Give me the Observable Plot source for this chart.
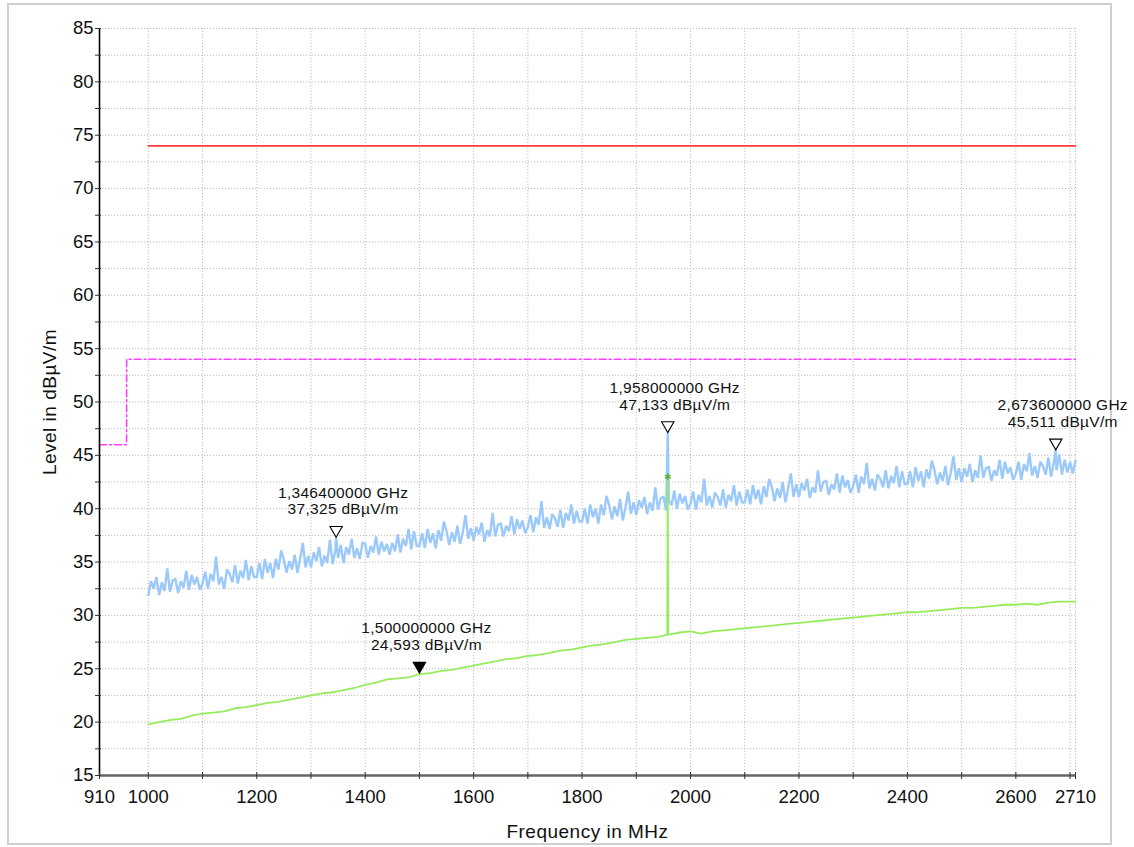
<!DOCTYPE html>
<html><head><meta charset="utf-8">
<script src="https://cdn.jsdelivr.net/npm/d3@7"></script>
<script src="https://cdn.jsdelivr.net/npm/@observablehq/plot@0.6"></script>
<style>
body{margin:0;background:#fff;}
#wrap{position:relative;width:1134px;height:847px;overflow:hidden;background:#fff;}
#frame{position:absolute;left:7px;top:3px;width:1105px;height:842px;border:2px solid #cfcfcf;box-sizing:border-box;}
#chart{position:absolute;left:0;top:0;}
</style></head><body>
<div id="wrap"><div id="frame"></div><div id="chart"></div></div>
<script>
// ---- data ----
const peakStartMHz = 1000, peakStepMHz = 5;
const peakLevel = [
31.9,33.2,32.5,33.6,31.9,33.1,32.3,34.4,32.2,33.3,
33.4,32.1,33.2,32.6,34.2,32.4,33.8,32.9,33.6,32.4,
33.0,34.1,32.5,33.9,33.2,35.5,32.9,33.6,32.5,34.3,
33.9,33.1,34.7,33.0,34.2,33.5,35.2,33.3,34.6,33.6,
33.6,34.9,33.4,35.3,34.0,34.9,33.5,35.3,34.3,36.1,
35.2,34.0,35.1,34.3,35.7,34.0,35.3,36.8,34.5,35.6,
34.5,35.9,35.1,36.4,34.6,35.6,34.9,37.1,34.8,36.1,
35.4,36.6,34.9,36.4,35.7,37.2,35.4,36.3,35.3,36.8,
36.7,35.4,36.5,35.9,37.4,35.7,36.9,36.0,36.7,35.7,
36.8,36.0,37.6,35.9,37.2,36.5,38.1,36.2,37.9,36.5,
36.5,37.7,36.3,38.1,36.8,37.7,36.3,38.0,37.0,38.8,
37.9,36.6,37.8,36.9,38.4,36.7,37.8,39.4,37.2,38.2,
37.0,38.3,37.6,38.7,36.9,38.0,37.4,39.6,37.4,38.5,
38.6,37.4,38.4,37.9,39.3,37.6,39.0,38.1,38.9,37.7,
38.3,39.4,37.8,39.2,38.5,40.7,38.2,39.2,38.1,39.5,
39.1,38.3,39.9,38.2,39.6,38.9,40.4,38.6,39.8,38.8,
38.8,40.0,38.6,40.4,39.2,40.0,38.6,40.4,39.4,41.2,
40.3,39.0,40.2,39.3,40.9,38.9,40.1,41.6,39.5,40.6,
39.4,40.8,40.1,41.1,39.5,40.6,39.8,42.0,39.9,41.0,
41.1,39.8,40.8,40.3,41.7,40.0,41.4,40.5,41.2,39.9,
40.5,41.6,39.9,41.3,40.6,42.8,40.3,41.2,40.1,41.5,
41.1,40.3,41.8,40.1,41.3,40.7,42.2,40.3,41.6,40.6,
40.6,41.8,40.4,42.2,40.9,41.8,40.4,42.1,41.1,42.8,
42.0,40.7,41.9,41.0,42.5,40.6,41.9,43.3,41.1,42.3,
41.1,42.4,41.7,42.8,41.0,42.0,41.5,43.6,41.6,42.5,
42.6,41.3,42.3,41.8,43.3,41.5,43.1,42.0,42.7,41.5,
42.1,43.2,41.5,43.0,42.3,44.3,41.9,42.8,41.7,43.2,
42.8,42.0,43.6,41.9,43.1,42.4,44.0,42.0,43.5,42.3,
42.3,43.5,42.0,43.9,42.6,43.5,42.0,43.7,42.8,44.5,
43.6,42.3,43.4,42.6,44.0,42.2,43.4,44.9,42.7,43.8,
42.5,43.8,43.0,44.2,42.5,43.6,42.9,45.0,42.9,43.8,
43.9,42.6,43.6,43.1,44.6,42.8,44.4,43.3,43.9,42.7,
43.3,44.4,42.7,44.2,43.5,45.2,43.1,44.0,42.9,44.4,
44.0,43.2,44.8,43.0,44.3,43.6,45.1,43.2,44.6,43.4,
44.4,43.3,44.5
];
// narrow peaks in the peak trace (MHz, dBµV/m)
const peakSpikeFreq = [1346.4, 1958.0, 2673.6];
const peakSpikeLevel = [37.325, 47.133, 45.511];

const avgFreq = [1000,1020,1040,1060,1080,1100,1120,1140,1160,1180,1200,1220,1240,1260,1280,1300,1320,1340,1360,1380,1400,1420,1440,1460,1480,1500,1520,1540,1560,1580,1600,1620,1640,1660,1680,1700,1720,1740,1760,1780,1800,1820,1840,1860,1880,1900,1920,1940,1950,1957,1958,1959,1970,1980,2000,2020,2040,2060,2080,2100,2120,2140,2160,2180,2200,2220,2240,2260,2280,2300,2320,2340,2360,2380,2400,2420,2440,2460,2480,2500,2520,2540,2560,2580,2600,2620,2640,2660,2680,2700,2710];
const avgLevel = [19.8,20.0,20.2,20.3,20.6,20.8,20.9,21.0,21.3,21.4,21.6,21.8,21.9,22.1,22.3,22.5,22.7,22.8,23.0,23.2,23.5,23.7,24.0,24.1,24.2,24.5,24.6,24.8,24.9,25.1,25.3,25.5,25.7,25.9,26.0,26.2,26.3,26.5,26.7,26.8,27.0,27.2,27.3,27.5,27.7,27.8,27.9,28.0,28.1,28.2,43.0,28.2,28.3,28.4,28.5,28.3,28.5,28.6,28.7,28.8,28.9,29.0,29.1,29.2,29.3,29.4,29.5,29.6,29.7,29.8,29.9,30.0,30.1,30.2,30.3,30.3,30.4,30.5,30.6,30.7,30.7,30.8,30.9,31.0,31.0,31.1,31.0,31.2,31.3,31.3,31.3];

const limitPeakFreq = [1000, 2710];
const limitPeakLevel = [74, 74];
const limitAvgFreq = [910, 960, 960, 2710];
const limitAvgLevel = [46, 46, 54, 54];

const markerFreq = [1346.4, 1958.0, 2673.6, 1500.0];
const markerLevel = [37.325, 47.133, 45.511, 24.593];
const markerFilled = [false, false, false, true];
const markerText = ["1,346400000 GHz\n37,325 dBµV/m", "1,958000000 GHz\n47,133 dBµV/m", "2,673600000 GHz\n45,511 dBµV/m", "1,500000000 GHz\n24,593 dBµV/m"];

const avgStarFreq = [1958.0];
const avgStarLevel = [43.0];

const xTickValues = [910,1000,1100,1200,1300,1400,1500,1600,1700,1800,1900,2000,2100,2200,2300,2400,2500,2600,2700,2710];
const xLabelValues = [910,1000,1200,1400,1600,1800,2000,2200,2400,2600,2710];
const xGridValues = [1000,1100,1200,1300,1400,1500,1600,1700,1800,1900,2000,2100,2200,2300,2400,2500,2600,2700,2710];
const yTickValues = [15,17.5,20,22.5,25,27.5,30,32.5,35,37.5,40,42.5,45,47.5,50,52.5,55,57.5,60,62.5,65,67.5,70,72.5,75,77.5,80,82.5,85];
const yLabelValues = [15,20,25,30,35,40,45,50,55,60,65,70,75,80,85];

// ---- build tables ----
const peak = peakLevel.map((v, i) => ({f: peakStartMHz + i * peakStepMHz, v}));
peakSpikeFreq.forEach((f, i) => peak.push({f, v: peakSpikeLevel[i]}));
peak.sort((a, b) => a.f - b.f);
const avg = avgFreq.map((f, i) => ({f, v: avgLevel[i]}));
const limPk = limitPeakFreq.map((f, i) => ({f, v: limitPeakLevel[i]}));
const limAv = limitAvgFreq.map((f, i) => ({f, v: limitAvgLevel[i]}));
const markers = markerFreq.map((f, i) => ({f, v: markerLevel[i], filled: markerFilled[i], t: markerText[i]}));
const stars = avgStarFreq.map((f, i) => ({f, v: avgStarLevel[i]}));

const font = "'Liberation Sans', Arial, sans-serif";
const chart = Plot.plot({
  width: 1134, height: 847,
  marginLeft: 99, marginRight: 59, marginTop: 28, marginBottom: 72,
  style: {fontFamily: font, fontSize: "18px", color: "#111", background: "transparent"},
  x: {domain: [910, 2710], label: null},
  y: {domain: [15, 85], label: null},
  marks: [
    Plot.ruleX(xGridValues, {stroke: "#bdbdbd", strokeDasharray: "1.2,1.8", strokeWidth: 1}),
    Plot.ruleY(yTickValues.filter(d => d > 15), {stroke: "#bdbdbd", strokeDasharray: "1.2,1.8", strokeWidth: 1}),
    Plot.line(limPk, {x: "f", y: "v", stroke: "#ff3b3b", strokeWidth: 1.6}),
    Plot.line(limAv, {x: "f", y: "v", stroke: "#ff40ff", strokeWidth: 1.6, strokeDasharray: "7,3,2,3"}),
    Plot.line(peak, {x: "f", y: "v", stroke: "#9cc9fb", strokeWidth: 2.4, strokeLinejoin: "miter", strokeMiterlimit: 2}),
    Plot.line(avg, {x: "f", y: "v", stroke: "#97ec5c", strokeWidth: 1.8}),
    Plot.dot(stars, {x: "f", y: "v", symbol: "asterisk", r: 3.2, stroke: "#55b030", strokeWidth: 1.3}),
    Plot.ruleX([910], {stroke: "#000", strokeWidth: 1.6}),
    Plot.ruleY([15], {stroke: "#666", strokeWidth: 2.6}),
    Plot.axisX(xTickValues, {tickSize: 7, dy: -3, tickFormat: () => "", stroke: "#333", label: null}),
    Plot.axisX(xLabelValues, {tickSize: 0, tickPadding: 14, tickFormat: d => String(d), fontSize: 18.5, label: "Frequency in MHz", labelAnchor: "center", labelArrow: "none", labelOffset: 62}),
    Plot.axisY(yTickValues, {tickSize: 6, dx: 2, tickFormat: () => "", stroke: "#333", label: null}),
    Plot.axisY(yLabelValues, {tickSize: 0, tickPadding: 6, tickFormat: d => String(d), fontSize: 18.5, label: "Level in dBµV/m", labelAnchor: "center", labelArrow: "none", labelOffset: 57}),
    Plot.dot(markers, {x: "f", y: "v", symbol: "triangle", r: 4.6, rotate: 180, dy: -7.2, stroke: "#000", strokeWidth: 1.1, fill: d => d.filled ? "#000" : "#fff"}),
    Plot.text(markers, {x: "f", y: "v", text: "t", dx: 7, dy: -23, lineAnchor: "bottom", lineHeight: 1.08, fontSize: 15.5, fill: "#111"})
  ]
});
// widen letter spacing to match the reference's text rendering
d3.select(chart).selectAll("g[aria-label='x-axis label'] text, g[aria-label='y-axis label'] text").attr("font-size", 19).attr("letter-spacing", "0.5px");
d3.select(chart).selectAll("g[aria-label='text'] text").attr("letter-spacing", "0.3px");
document.getElementById("chart").appendChild(chart);
</script>
</body></html>
